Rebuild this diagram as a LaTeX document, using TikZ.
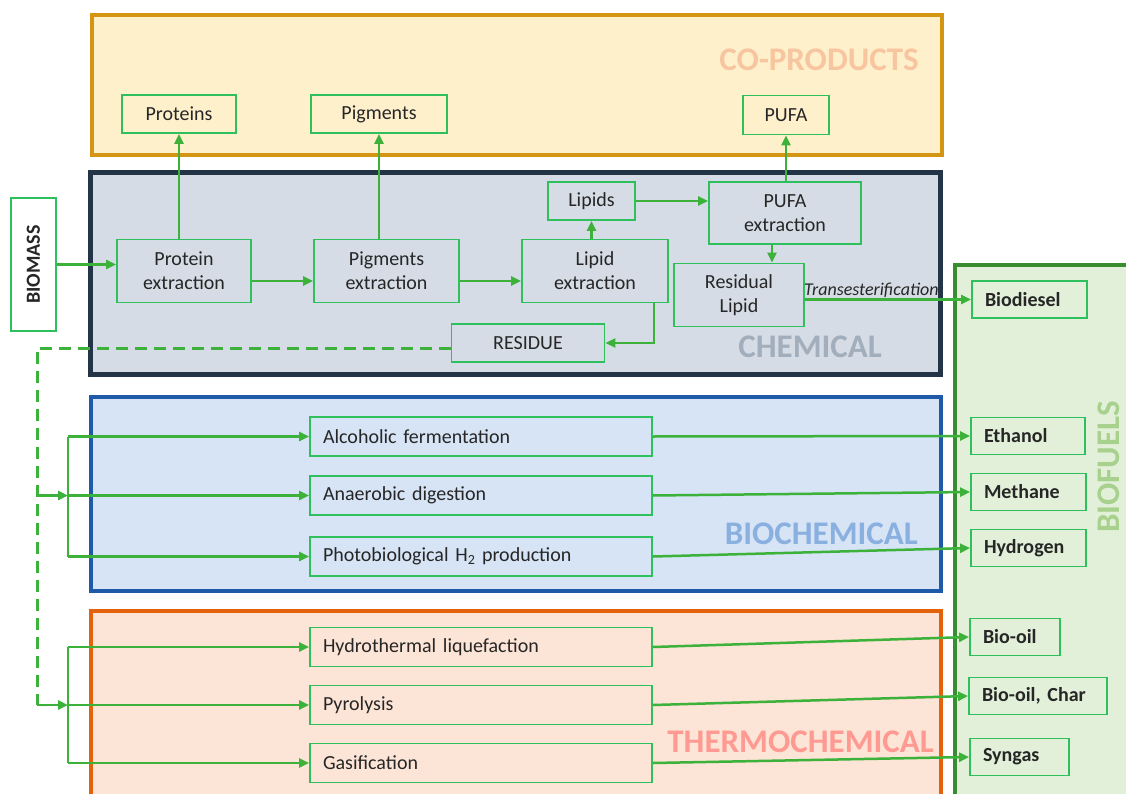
\documentclass[tikz,border=0pt]{standalone}
\usepackage{fontspec}
\setmainfont{Carlito}
\usetikzlibrary{arrows.meta, positioning}

\definecolor{boxgreen}{HTML}{2EC05C}
\definecolor{flowgreen}{HTML}{3DB23A}
\definecolor{txt}{HTML}{262626}
\definecolor{coFill}{HTML}{FFF0CC}
\definecolor{coDraw}{HTML}{D39512}
\definecolor{coText}{HTML}{F7C59F}
\definecolor{chFill}{HTML}{D5DCE5}
\definecolor{chDraw}{HTML}{243447}
\definecolor{chText}{HTML}{A3AEBC}
\definecolor{biFill}{HTML}{D6E4F5}
\definecolor{biDraw}{HTML}{1E5AA8}
\definecolor{biText}{HTML}{8AB0E0}
\definecolor{thFill}{HTML}{FCE4D6}
\definecolor{thDraw}{HTML}{E5620C}
\definecolor{thText}{HTML}{FF9A93}
\definecolor{fuFill}{HTML}{E2F0D9}
\definecolor{fuDraw}{HTML}{3A8C30}
\definecolor{fuText}{HTML}{A9D18E}

\begin{document}
\begin{tikzpicture}[x=1pt, y=-1pt,
    box/.style={draw=boxgreen, line width=1.8pt, inner sep=0pt, align=center,
      text=txt, font=\fontsize{20}{24}\selectfont},
    proc/.style={box, text width=316pt, align=left, inner xsep=13pt, minimum height=39pt},
    fuel/.style={box, font=\fontsize{20}{24}\selectfont\bfseries, align=left,
      inner xsep=13pt, minimum height=37pt},
    flow/.style={draw=flowgreen, line width=2.5pt, -{Triangle[length=10pt,width=9pt]}},
    link/.style={draw=flowgreen, line width=2.5pt},
    dashlink/.style={draw=flowgreen, line width=3pt, dash pattern=on 12pt off 7pt},
    area/.style={line width=4pt},
    arealabel/.style={inner sep=0pt, font=\fontsize{33}{36}\selectfont\bfseries}]
  \useasboundingbox (0,0) rectangle (1126,794);
  \clip (0,0) rectangle (1126,794);

  % background areas
  \draw[area, draw=coDraw, fill=coFill] (92,15) rectangle (942,155);
  \draw[area, line width=5pt, draw=chDraw, fill=chFill] (90.5,172.5) rectangle (940.5,374.5);
  \draw[area, draw=biDraw, fill=biFill] (91,397) rectangle (941,591);
  \draw[area, draw=thDraw, fill=thFill] (91,611) rectangle (941,830);
  \draw[area, line width=3.5pt, draw=fuDraw, fill=fuFill] (955,265) rectangle (1150,830);

  \node[arealabel, text=coText, anchor=east] (colab) at (919,60) {CO-PRODUCTS};
  \node[arealabel, text=chText, anchor=east] (chlab) at (882,347) {CHEMICAL};
  \node[arealabel, text=biText, anchor=east] (bilab) at (918,534) {BIOCHEMICAL};
  \node[arealabel, text=thText, anchor=east] (thlab) at (934,742) {THERMOCHEMICAL};
  \node[arealabel, text=fuText, rotate=90] (fulab) at (1109,467) {BIOFUELS};

  % co-products
  \node[box, minimum width=114pt, minimum height=38pt] (prot) at (179,114) {Proteins};
  \node[box, minimum width=136pt, minimum height=38pt] (pig)  at (379,114) {Pigments};
  \node[box, minimum width=86pt,  minimum height=39pt] (pufa) at (786,115) {PUFA};

  % chemical route
  \node[box, fill=white, minimum width=45pt, minimum height=133pt] (biomass) at (33.5,264.5)
    {\rotatebox{90}{\bfseries BIOMASS}};
  \node[box, minimum width=134pt, minimum height=63pt] (protx) at (184,271) {Protein\\extraction};
  \node[box, minimum width=145pt, minimum height=63pt] (pigx)  at (386.5,271) {Pigments\\extraction};
  \node[box, minimum width=146pt, minimum height=63pt] (lipx)  at (595,271) {Lipid\\extraction};
  \node[box, minimum width=87pt,  minimum height=38pt] (lipids) at (591.5,201) {Lipids};
  \node[box, minimum width=152pt, minimum height=62pt] (pufax) at (785,213) {PUFA\\extraction};
  \node[box, minimum width=130pt, minimum height=63pt] (resl)  at (739,295) {Residual\\Lipid};
  \node[box, minimum width=153pt, minimum height=38pt] (resid) at (528,343) {RESIDUE};

  % biochemical and thermochemical routes
  \node[proc] (alc)   at (481,436.5) {Alcoholic fermentation};
  \node[proc] (anae)  at (481,495.5) {Anaerobic digestion};
  \node[proc] (photo) at (481,556.5) {Photobiological H\textsubscript{2} production};
  \node[proc] (hydro) at (481,647)   {Hydrothermal liquefaction};
  \node[proc] (pyro)  at (481,705)   {Pyrolysis};
  \node[proc] (gasi)  at (481,763)   {Gasification};

  % biofuels
  \node[fuel, text width=89pt] (biod)  at (1029.5,299.5) {Biodiesel};
  \node[fuel, text width=88pt] (eth)   at (1028,436)     {Ethanol};
  \node[fuel, text width=89pt] (meth)  at (1028.5,492)   {Methane};
  \node[fuel, text width=89pt] (hydg)  at (1028.5,548)   {Hydrogen};
  \node[fuel, text width=64pt] (oil)   at (1015,637)     {Bio-oil};
  \node[fuel, text width=112pt] (char) at (1038,696)     {Bio-oil, Char};
  \node[fuel, text width=73pt] (syn)   at (1019.5,757)   {Syngas};

  % helper points
  \coordinate (pp) at ([yshift=-10pt]protx.east);
  \coordinate (gg) at ([yshift=-10pt]pigx.east);
  \coordinate (uu) at ([xshift=-13pt]pufax.south);
  \coordinate (ll) at ([xshift=59pt]lipx.south);
  \coordinate (dtop) at (37,348);
  \coordinate (dbot) at (37,705);
  \coordinate (bus1) at (68,495.5);
  \coordinate (bus2) at (68,705);

  % chemical flows
  \draw[flow] (biomass.east) -- (biomass.east -| protx.west);
  \draw[flow] (pp) -- (pp -| pigx.west);
  \draw[flow] (gg) -- (gg -| lipx.west);
  \draw[flow] (prot.south |- protx.north) -- (prot.south);
  \draw[flow] (pig.south |- pigx.north) -- (pig.south);
  \draw[flow] (lipids.south |- lipx.north) -- (lipids.south);
  \draw[flow] (lipids.east) -- (lipids.east -| pufax.west);
  \draw[flow] (pufa.south |- pufax.north) -- (pufa.south);
  \draw[flow] (uu) -- (uu |- resl.north);
  \draw[flow] (ll) |- (resid.east);
  \draw[flow] (resl.east |- biod) -- (biod.west)
    node[pos=0.4, above=0pt, inner sep=1pt, font=\fontsize{18}{20}\selectfont\itshape, text=txt]
    (trans) {Transesterification};

  % residue recycled to the other routes
  \draw[dashlink] (resid.west |- dtop) -- (dtop) -- (dbot);
  \draw[flow] (dtop |- bus1) -- (bus1);
  \draw[flow] (dbot) -- (bus2);
  \draw[link] (bus1 |- alc) -- (bus1 |- photo);
  \draw[link] (bus2 |- hydro) -- (bus2 |- gasi);
  \foreach \p in {alc, anae, photo}
    \draw[flow] (bus1 |- \p) -- (\p.west);
  \foreach \p in {hydro, pyro, gasi}
    \draw[flow] (bus2 |- \p) -- (\p.west);

  % to biofuels
  \draw[flow] (alc.east) -- (eth.west);
  \draw[flow] (anae.east) -- (meth.west);
  \draw[flow] (photo.east) -- (hydg.west);
  \draw[flow] (hydro.east) -- (oil.west);
  \draw[flow] (pyro.east) -- (char.west);
  \draw[flow] (gasi.east) -- (syn.west);
\end{tikzpicture}
\end{document}
